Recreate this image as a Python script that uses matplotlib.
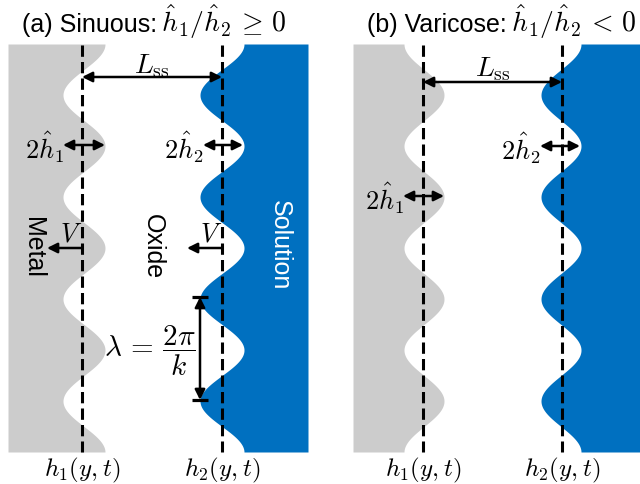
import numpy as np
import matplotlib.pyplot as plt

plt.rcParams['font.family'] = ['Liberation Sans', 'DejaVu Sans']
plt.rcParams['mathtext.fontset'] = 'cm'

# Geometry of the schematic (pixel units of the 640x485 canvas)
y_top, y_bot = 45, 453
wavelength = 102
n_pts = 400

# panel (a): sinuous, (b): varicose
gray_left = [8, 353]
blue_right = [308, 640]
h1_center = [84, 424]
h2_center = [222, 561]
h1_amp = [21, -20]
h2_amp = [22, 20]
dash_x1 = [82, 423]
dash_x2 = [222, 562]

title_words = ['(a) Sinuous:', '(b) Varicose:']
title_math = [r'$\hat{h}_1/\hat{h}_2\,\geq\,0$', r'$\hat{h}_1/\hat{h}_2\,<\,0$']
title_x = [22, 367]

gray = '#cccccc'
blue = '#0070c0'

fig = plt.figure(figsize=(6.4, 4.85), dpi=100)
ax = fig.add_axes([0, 0, 1, 1])
ax.set_xlim(0, 640)
ax.set_ylim(485, 0)
ax.axis('off')
renderer = fig.canvas.get_renderer()

y = np.linspace(y_top, y_bot, n_pts)
phase = np.cos(2 * np.pi * (y - y_top) / wavelength)

arrow_kw = dict(arrowstyle='<|-|>', lw=1.8, color='k', mutation_scale=15,
                shrinkA=0, shrinkB=0)
left_kw = dict(arrowstyle='-|>', lw=1.8, color='k', mutation_scale=15,
               shrinkA=0, shrinkB=0)

for i in range(2):
    h1 = h1_center[i] + h1_amp[i] * phase
    h2 = h2_center[i] + h2_amp[i] * phase
    ax.fill_betweenx(y, gray_left[i], h1, color=gray, lw=0)
    ax.fill_betweenx(y, h2, blue_right[i], color=blue, lw=0)
    for xd in (dash_x1[i], dash_x2[i]):
        ax.plot([xd, xd], [y_top + 1, y_bot], color='k', lw=2.2,
                dashes=(3.7, 1.7))
    t = ax.text(title_x[i], 32, title_words[i], fontsize=18, ha='left',
                va='baseline')
    bb = t.get_window_extent(renderer=renderer)
    x_end = ax.transData.inverted().transform((bb.x1, bb.y0))[0]
    ax.text(x_end + 4, 32, title_math[i], fontsize=20, ha='left',
            va='baseline')
    ax.text(dash_x1[i], 470, r'$h_1(y,t)$', fontsize=18, ha='center', va='center')
    ax.text(dash_x2[i], 470, r'$h_2(y,t)$', fontsize=18, ha='center', va='center')

# L_ss arrows
lss_y = [78, 83]
lss_lab_y = [66, 69]
for i in range(2):
    ax.annotate('', xy=(dash_x2[i], lss_y[i]), xytext=(dash_x1[i], lss_y[i]),
                arrowprops=arrow_kw)
    ax.text((dash_x1[i] + dash_x2[i]) / 2, lss_lab_y[i], r'$L_{\rm ss}$',
            fontsize=20, ha='center', va='center')

# amplitude arrows: (x_left, x_right, y, label)
amp_arrows = [
    (63, 105, 146, r'$2\hat{h}_1$'),
    (203, 243, 146, r'$2\hat{h}_2$'),
    (540, 580, 147, r'$2\hat{h}_2$'),
    (403, 444, 197, r'$2\hat{h}_1$'),
]
for xl, xr, ya, lab in amp_arrows:
    ax.annotate('', xy=(xr, ya), xytext=(xl, ya), arrowprops=arrow_kw)
    ax.text(xl + 1, ya + 1, lab, fontsize=19, ha='right', va='center')

# velocity arrows in panel (a)
for xd in (dash_x1[0], dash_x2[0]):
    ax.annotate('', xy=(xd - 35, 249), xytext=(xd, 249), arrowprops=left_kw)
    ax.text(xd - 11, 235, r'$V$', fontsize=19, ha='center', va='center')

# phase labels
ax.text(33, 247, 'Metal', fontsize=18, rotation=-90, ha='center', va='center')
ax.text(153, 247, 'Oxide', fontsize=18, rotation=-90, ha='center', va='center')
ax.text(280, 245, 'Solution', fontsize=18, rotation=-90, ha='center',
        va='center', color='white')

# wavelength marker
lam_x, lam_y0, lam_y1 = 200, 298, 401
ax.annotate('', xy=(lam_x, lam_y1), xytext=(lam_x, lam_y0), arrowprops=arrow_kw)
for yc in (lam_y0, lam_y1):
    ax.plot([192, 208], [yc, yc], color='k', lw=2.3, solid_capstyle='butt')
ax.text(196, 351, r'$\lambda\,=\,\dfrac{2\pi}{k}$', fontsize=21, ha='right',
        va='center')

fig.savefig('out.png', dpi=100)
